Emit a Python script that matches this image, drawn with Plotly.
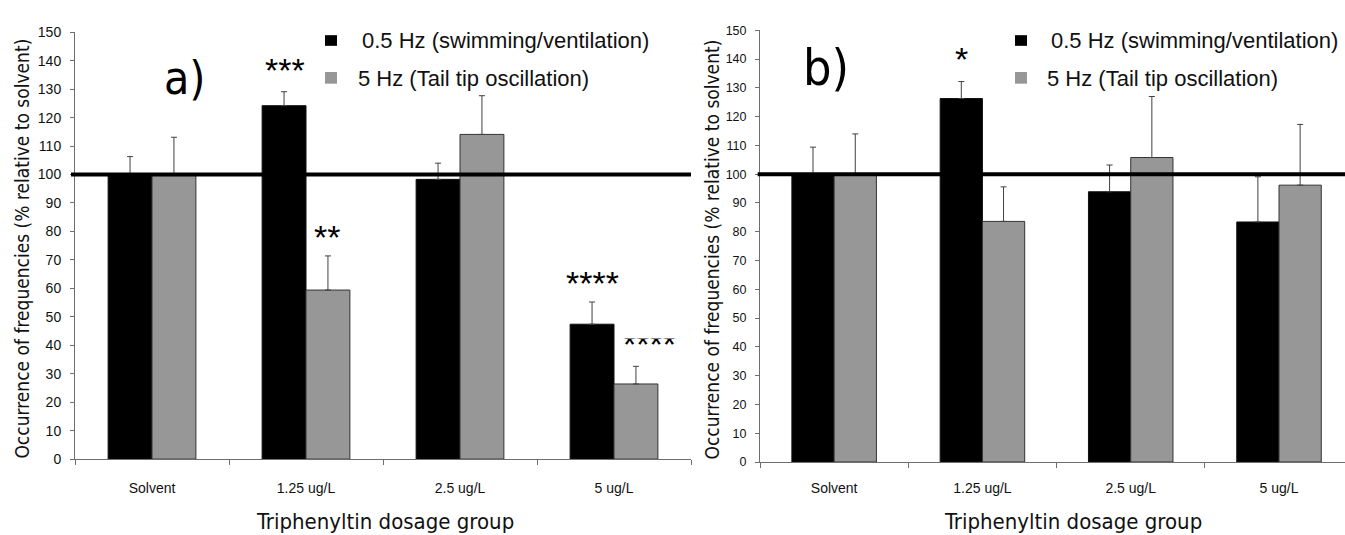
import plotly.graph_objects as go

# ---------------------------------------------------------------- data
categories = ["Solvent", "1.25 ug/L", "2.5 ug/L", "5 ug/L"]
series_names = ["0.5 Hz (swimming/ventilation)", "5 Hz (Tail tip oscillation)"]

# panel a) mean occurrence (% of solvent) and upper SE
a_slow = [100, 124.2, 98.3, 47.4]
a_slow_err = [6.3, 4.9, 5.7, 7.8]
a_fast = [100, 59.4, 114.1, 26.4]
a_fast_err = [13.1, 12.0, 13.6, 6.2]

# panel b)
b_slow = [100, 126.3, 93.9, 83.4]
b_slow_err = [9.4, 5.9, 9.3, 15.7]
b_fast = [100, 83.6, 105.8, 96.2]
b_fast_err = [14.0, 12.0, 21.2, 21.1]

# significance marks: (text, category index, series index)
a_marks = [("***", 1, 0), ("**", 1, 1), ("****", 3, 0)]
b_marks = [("*", 1, 0)]

reference_level = 100
y_ticks = list(range(0, 151, 10))

# ---------------------------------------------------------------- styling
W, H = 1345, 535
BLACK = "#000000"
GREY = "#979797"
AXIS = "#6e6e6e"
TITLE_FONT = "DejaVu Sans Condensed, Lato, sans-serif"
TICK_FONT = "Liberation Sans, Arial, sans-serif"
BAR_W = 0.285


def px(x):
    return x / W


def py(y):
    return 1 - y / H


fig = go.Figure()

panels = [
    dict(xa="x", ya="y", slow=a_slow, slow_err=a_slow_err, fast=a_fast, fast_err=a_fast_err),
    dict(xa="x2", ya="y2", slow=b_slow, slow_err=b_slow_err, fast=b_fast, fast_err=b_fast_err),
]

for p in panels:
    for vals, errs, color, edge, offs, name in [
        (p["slow"], p["slow_err"], BLACK, "#111111", -BAR_W, series_names[0]),
        (p["fast"], p["fast_err"], GREY, "#333333", 0.0, series_names[1]),
    ]:
        fig.add_trace(go.Bar(
            x=categories, y=vals, name=name, showlegend=False,
            width=BAR_W, offset=offs,
            marker=dict(color=color, line=dict(color=edge, width=1)),
            error_y=dict(type="data", array=errs, arrayminus=[0] * len(errs),
                         symmetric=False, color="#404040", thickness=1, width=3),
            xaxis=p["xa"], yaxis=p["ya"],
        ))

# reference line at 100 %
fig.add_shape(type="line", xref="x domain", yref="y", x0=-0.0065, x1=1,
              y0=reference_level, y1=reference_level,
              line=dict(color=BLACK, width=4), layer="above")
fig.add_shape(type="line", xref="x2 domain", yref="y2", x0=-0.004, x1=1,
              y0=reference_level, y1=reference_level,
              line=dict(color=BLACK, width=4), layer="above")

common_y = dict(range=[0, 150], tickvals=y_ticks, ticks="outside", ticklen=4,
                tickcolor=AXIS, showline=True, linecolor=AXIS, linewidth=1,
                showgrid=False, zeroline=False, fixedrange=True)
common_x = dict(type="category", tickson="boundaries", ticks="outside", ticklen=5,
                tickcolor=AXIS, showline=True, linecolor=AXIS, linewidth=1,
                showgrid=False, zeroline=False,
                tickfont=dict(family=TICK_FONT, size=14, color="#111"))

fig.update_layout(
    width=W, height=H,
    margin=dict(l=0, r=0, t=0, b=0),
    paper_bgcolor="white", plot_bgcolor="white",
    showlegend=False,
    xaxis=dict(domain=[px(75), px(691)], range=[-0.5, 3.5], anchor="y",
               ticklabelstandoff=16, **common_x),
    yaxis=dict(domain=[py(465), py(25)], anchor="x", ticklabelstandoff=6,
               tickfont=dict(family=TICK_FONT, size=14, color="#111"), **common_y),
    xaxis2=dict(domain=[px(760), 1.0], range=[-0.5, 3.445], anchor="y2",
                ticklabelstandoff=13, **common_x),
    yaxis2=dict(domain=[py(468), py(23)], anchor="x2", ticklabelstandoff=6,
                tickfont=dict(family=TICK_FONT, size=12.5, color="#111"), **common_y),
)


def text_at(text, x, y, size, family=TITLE_FONT, angle=0, xanchor="center", color="#111"):
    return dict(text=text, x=px(x), y=py(y), xref="paper", yref="paper",
                xanchor=xanchor, yanchor="middle", textangle=angle, showarrow=False,
                font=dict(family=family, size=size, color=color))


ann = []
# axis titles
for xc, yc in [(22, 248), (712, 249)]:
    ann.append(text_at("Occurrence of frequencies (% relative to solvent)", xc, yc, 19, angle=-90))
for xc, yc in [(385, 529), (1073, 529)]:
    ann.append(text_at("Triphenyltin dosage group", xc, yc, 22))

# panel letters
ann.append(text_at("a)", 185, 72, 46, color=BLACK))
ann.append(text_at("b)", 826, 62, 50, color=BLACK))

# legends
for sx, tx1, tx2 in [(325, 360, 356), (1015, 1049, 1045)]:
    fig.add_shape(type="rect", xref="paper", yref="paper",
                  x0=px(sx), x1=px(sx + 12), y0=py(39), y1=py(28),
                  fillcolor=BLACK, line=dict(width=0))
    fig.add_shape(type="rect", xref="paper", yref="paper",
                  x0=px(sx), x1=px(sx + 12), y0=py(78), y1=py(66),
                  fillcolor=GREY, line=dict(width=0))
    ann.append(text_at(series_names[0], tx1, 34, 22, family=TICK_FONT, xanchor="left"))
    ann.append(text_at(series_names[1], tx2, 73, 22, family=TICK_FONT, xanchor="left"))


# significance stars above the error bars
def star(text, xa, ya, cat, series, top, shift, xs=0):
    return dict(text=text, x=categories[cat], y=top, xref=xa, yref=ya,
                xanchor="center", yanchor="middle",
                xshift=(-BAR_W / 2 if series == 0 else BAR_W / 2) * 150 + xs,
                yshift=shift, showarrow=False,
                font=dict(family=TICK_FONT, size=34, color=BLACK))


a_shift = [22, 19, 19]
for (text, c, s), sh in zip(a_marks, a_shift):
    top = (a_slow[c] + a_slow_err[c]) if s == 0 else (a_fast[c] + a_fast_err[c])
    ann.append(star(text, "x", "y", c, s, top, sh))
for text, c, s in b_marks:
    top = (b_slow[c] + b_slow_err[c]) if s == 0 else (b_fast[c] + b_fast_err[c])
    ann.append(star(text, "x2", "y2", c, s, top, 23))

# partly hidden stars beside the 5 ug/L grey bar
ann.append(star("****", "x", "y", 3, 1, a_fast[3] + a_fast_err[3], 22.5, xs=14))
ann.append(dict(text=" ", x=px(651), y=py(341), xref="paper", yref="paper",
                xanchor="center", yanchor="bottom", width=60, height=22,
                bgcolor="white", borderpad=0, showarrow=False, font=dict(size=10)))

fig.update_layout(annotations=ann)
fig.write_html("out.html")
